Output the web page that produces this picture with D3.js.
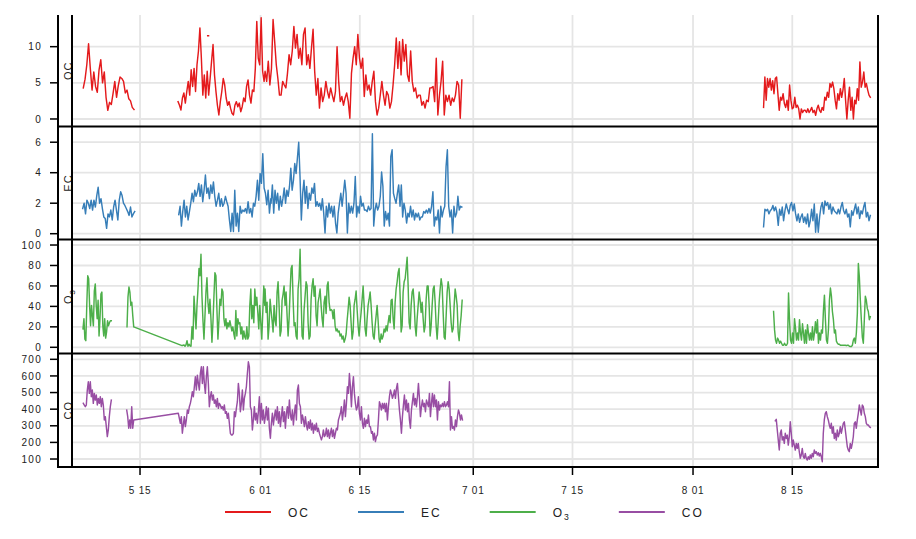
<!DOCTYPE html>
<html><head><meta charset="utf-8">
<script src="https://cdn.jsdelivr.net/npm/d3@7"></script>
<style>
body{margin:0;background:#fff}
svg{display:block}
text{font-family:Arial,"Liberation Sans",sans-serif;fill:#222}
</style>
</head><body>
<svg id="chart" width="916" height="539"></svg>
<script>
// ---------------- DATA ----------------
const seriesKeys = ["OC", "EC", "O3", "CO"];
const seriesColors = ["#e41a1c", "#377eb8", "#4daf4a", "#984ea3"];
const xTickDates = ["2013-05-15", "2013-06-01", "2013-06-15", "2013-07-01", "2013-07-15", "2013-08-01", "2013-08-15"];
const ocTicks = [0, 5, 10];
const ecTicks = [0, 2, 4, 6];
const o3Ticks = [0, 20, 40, 60, 80, 100];
const coTicks = [100, 200, 300, 400, 500, 600, 700];

// OC (evenly spaced readings between the span start and end)
const ocA = [4.3,5.5,7.5,10.4,7.0,4.0,6.5,4.5,3.7,6.8,8.2,5.0,6.5,3.0,1.2,2.3,2.0,3.5,5.2,3.0,4.6,5.8,5.6,5.2,3.6,4.0,2.8,2.5,1.6,1.3];
const ocB1 = [2.4,1.9,1.25,2.9,3.6,2.2,3.8,5.2,3.3,6.8,4.5,7.0,3.8,7.5,9.4,12.6,8.4,3.3,6.1,2.9,6.6,3.3,5.6,8.0,10.3,6.1,3.8,1.9,0.55,2.4,3.8,5.6,4.7,2.9,1.9,2.4,1.5,0.8,0.55,1.9,2.4,1.7,2.2,1.0,1.7,2.9,2.4,4.5,5.4,3.3,2.2,4.0,3.8,7.0,13.5,8.4,7.5,14.0,6.6,5.2];
const ocB2 = [6.6,5.2,8.0,4.7,7.0,13.75,10.7,7.5,5.6,3.3,3.3,5.2,4.7,4.3,6.3,8.9,7.5,9.4,12.8,9.8,11.7,8.4,9.8,7.5,11.7,12.6,7.5,8.9,7.0,9.8,12.4,6.6,3.3,5.6,1.5,4.3,2.4,3.3,5.2,3.8,2.9,4.3,3.3,2.4,3.8,10.0,5.2,2.4,3.1,1.9,2.9,3.6,2.4,0.1,6.3,8.4,10.0,7.5,11.7,8.4,7.0,8.4,3.1,6.1,4.0,4.7,3.3,5.2,6.6,2.4,0.55,1.5,3.3,5.2,3.3,1.9,3.8,3.3,1.5,2.4,4.7,7.5,11.2,7.0,10.7,6.1,11.0,8.0,10.3,6.1,5.2,9.4,5.2,3.8,4.3,2.9,3.3,3.3,1.9,2.4,1.5,2.6,2.4,4.3,4.3,4.5,2.4,8.4,0.55,3.3,5.2,8.0,0.55,3.3,2.4,3.3,1.9,2.9,2.4,3.3,5.2,4.7,0.1,5.4];
const ocDot = [11.5, 11.5];
const ocC = [1.6,5.8,2.6,5.6,4.4,5.6,4.0,5.3,3.5,5.6,5.8,3.5,1.2,3.0,2.6,3.5,2.1,1.6,2.6,1.2,4.7,2.6,1.4,1.6,3.0,1.6,1.9,1.4,0.0,1.4,0.9,1.2,1.2,0.9,1.4,0.9,1.2,1.6,0.9,1.2,0.5,1.4,1.9,1.2,0.9,1.6,1.2,3.0,2.6,3.7,3.0,4.9,4.4,5.1,4.2,2.6,1.4,3.5,2.6,4.2,3.0,4.0,5.6,2.6,0.0,2.6,4.4,1.2,3.0,0.0,2.6,2.1,4.2,2.6,7.9,4.4,5.1,6.5,4.4,4.9,4.0,3.3,3.0];

// EC
const ecA = [1.65,2.0,1.3,2.2,2.0,1.65,2.2,1.55,2.2,1.75,2.5,3.05,2.0,2.3,1.65,1.1,1.0,0.35,1.3,1.1,1.55,0.9,1.75,2.2,1.55,0.9,2.2,2.75,2.5,2.0,1.85,1.65,1.45,1.2,1.75,1.1,1.3,1.45];
const ecB1 = [1.25,1.8,0.5,1.45,2.2,1.1,1.8,0.9,1.45,2.0,2.65,2.1,2.85,2.45,2.75,3.3,2.45,3.2,2.1,2.85,3.85,2.65,3.0,2.3,3.2,2.65,3.4,2.45,1.8,2.2,2.65,1.8,2.3,1.8,2.0,2.45,2.1,1.8,0.9,0.15,1.35,0.15,2.85,0.5,1.35,0.15,1.8,1.35,1.55,1.45,1.65,1.35,2.1,1.35,1.65,1.1,2.0,1.8,2.45,3.5,2.2,3.95,3.3,5.25,3.0,2.65,1.9,2.85,1.35,2.3];
const ecB2 = [2.0,3.2,1.35,2.85,2.0,2.65,1.55,2.45,1.8,2.3,3.0,2.0,2.85,2.45,3.1,4.3,2.85,3.5,4.6,3.95,4.95,6.0,3.75,0.9,2.65,3.5,2.0,3.1,1.65,2.65,2.2,3.0,2.65,3.3,1.8,2.1,1.8,2.0,1.55,2.3,1.35,0.05,1.8,1.1,2.0,1.35,1.8,1.1,1.8,0.7,0.05,1.35,2.0,2.65,1.8,2.65,3.5,2.65,0.05,2.0,1.35,1.8,1.35,2.0,3.75,1.1,1.8,1.35,2.45,1.8,2.0,1.55,1.55,1.45,1.8,1.55,1.65,6.55,0.5,1.55,2.0,1.55,1.8,2.45,4.05,3.1,0.5,1.45,0.9,1.35,0.5,5.05,5.5,2.65,2.3,2.0,2.65,3.2,1.8,3.2,1.1,2.0,1.55,0.7,1.35,1.1,1.8,1.1,1.55,0.9,1.35,1.1,1.35,0.9,1.1,1.1,1.45,1.35,1.55,1.35,1.65,1.35,1.8,2.75,0.5,1.1,0.9,1.55,0.05,1.8,1.1,1.55,1.8,4.4,5.5,1.8,1.1,1.55,0.05,1.8,1.1,1.35,2.45,1.55,1.8,1.75];
const ecC = [0.45,1.6,1.5,1.6,1.3,1.5,1.6,1.85,1.5,1.75,1.4,0.55,1.6,1.2,1.75,0.85,1.5,1.95,1.6,1.3,1.85,2.05,1.5,1.95,1.3,0.85,1.3,0.75,1.1,1.3,0.75,1.1,0.65,1.3,0.45,0.85,1.6,0.85,1.95,0.1,1.3,0.1,1.1,1.75,2.05,1.3,2.15,1.85,2.05,1.6,1.95,1.3,1.75,1.5,1.4,1.3,1.6,1.3,1.75,2.05,1.5,1.3,1.6,1.1,1.3,0.45,1.5,1.2,1.6,1.95,1.3,1.75,1.0,1.5,1.3,1.75,2.05,1.1,1.4,0.85,1.2];

// O3
const o3A = [18,28,8,6.5,41,70,67,41,21,41,31,21,55,62,41,28,46,11,28,52,54,21,11,28,9,15,26,21,24,26,26];
const o3B1 = [20,49,59,54,41,44,31,20];
const o3B2 = [1.6,2.0,2.3,1.0,2.5,6.5,1.0,3.0,1.5,1.0,20,8,50,34,18,41,57,77,70,91,50,26,8,31,54,68,44,33,47,28,5,24,50,73,70,37,8,26,47,41,57,54,28,21,28,18,24,20,26,21,16,20,13,8,36,11,28,23,24,13,20,8,16,10,8,20,8,11,41,57,28,41,24,57,41,49,34,18,41,24,8,34,60,41];
const o3B3 = [57,34,44,8,21,47,36,26,15,41,26,21,54,64,41,11,16,46,52,60,41,54,31,11,28,54,77,80,47,21,24,11,8,57,67,96,49,11,8,37,50,64,60,24,8,11,47,60,67,50,60,31,21,44,50,57,41,28,20,44,50,33,60,64,44,36,37,36,28,37,21,16,18,15,16,11,13,8,11,5,8,13,26,37,49,41,24,8,15,41,47,55,37,21,11,24,34,47,60,41,18,11,28,41,47,54,41,24,11,8,21,31,41,26,8,5,13,8,11,18,15,21,16,24,31,24,46,47,28,18,44,57,64,73,77,50,15,21,54,64,67,77,88,60,24,18,41,54,57,44,21,11,28,41,54,46,34,44,28,15,21,47,60,60,41,11,21,41,57,60,44,21,8,24,44,57,67,60,34,10,8,31,54,64,57,41,24,15,18,41,57,50,41,15,6.5,21,31,46];
const o3C = [35,17,7,4,9,7,4,6,4,2,2,4,2,2,4,53,27,7,4,14,4,28,19,7,14,7,27,14,7,23,14,4,17,4,22,14,7,14,7,20,7,14,25,14,27,4,14,7,17,14,36,51,27,7,4,17,46,58,50,35,27,14,17,6,4,3,3,2,2,2,2,2,2,1.6,2,2,1,0.7,0.7,2,7,9,4,14,33,82,69,46,27,10,4,27,50,46,38,35,27,30];

// CO
const coA = [435,425,415,425,515,565,495,565,475,515,435,495,455,485,425,465,435,475,415,465,425,335,355,295,235,275,355,415,455];
const coB1 = [395,355,285,335,285,415,285,335];
const coB2 = [375,345,315,355,255,305,355,295,335,395,375,415,435,465,505,475,535,595,515,605,555,515,615,655,555,655,555,495,595,655,555,415,475,505,455,485,435,455,415,465,405,435,425,405,415,395,425,375,385,345,375,315,255,245,245,255,385,355,405,445,555,495,385,435,515,395,465,495,535,615,685,655,415,395,275,335,415,335,375,315,385,475,315,435,335,395,315,355,415,335,405,285,225,315,375,305,355,395,335,415,315,385,295,355,415,325,385,285,375,415,345,455,365,335,395,305,375,425,335,515,545,435,415,315,365,335,295,355,305,275,325,285,335,275,315,255,305,275,315,265,285,255,235,215,235,275,235,245,285,235,275,225,255,285,235,275,225,255,285,275,335,355,375,415,335,385,455,355,435,535,495,615,535,415,535,595,495,435,395,415,475,375,335,415,315,285,345,295,335,315,365,295,295,255,265,215,255,205,235,245];
const coB3 = [335,445,425,395,435,405,435,385,435,335,415,475,515,495,465,485,515,465,525,555,475,395,335,255,355,425,485,395,455,385,435,335,285,395,445,495,425,465,415,475,555,465,355,415,455,415,435,385,455,435,415,495,355,435,495,415,485,415,455,335,445,395,425,415,435,415,445,415,425,445,415,565,275,355,285,295,275,335,295,355,395,375,335,365,335];
const coC = [330,339,275,214,154,255,275,214,234,194,255,224,244,184,234,324,255,174,214,184,154,194,164,194,144,104,124,164,114,104,134,104,94,114,98,124,104,134,114,154,134,144,124,138,118,134,114,84,255,335,375,385,355,335,305,285,315,255,295,224,255,214,275,234,255,295,255,285,315,324,275,224,174,154,144,194,164,194,234,315,324,285,335,375,425,395,365,425,415,375,355,315,305,305,295,290];

// pieces: [start, end, values, path index] — readings evenly spaced in time within each span
const ocPieces = [
  ["05-07T00:00", "05-14T03:40", ocA, 0],
  ["05-20T08:41", "06-01T11:56", ocB1, 1],
  ["06-01T15:19", "06-29T09:26", ocB2, 1],
  ["05-24T13:00", "05-24T16:00", ocDot, 2],
  ["08-10T22:48", "08-26T00:09", ocC, 3]
];
const ecPieces = [
  ["05-06T21:58", "05-14T06:03", ecA, 0],
  ["05-20T11:04", "06-02T10:37", ecB1, 1],
  ["06-02T11:38", "06-29T09:26", ecB2, 1],
  ["08-10T22:48", "08-26T00:09", ecC, 2]
];
const o3Pieces = [
  ["05-06T22:58", "05-10T22:48", o3A, 0],
  ["05-13T03:59", "05-14T02:40", o3B1, 1],
  ["05-20T22:13", "06-01T14:18", o3B2, 1],
  ["06-01T15:19", "06-29T10:28", o3B3, 1],
  ["08-12T08:38", "08-26T00:09", o3C, 2]
];
const coPieces = [
  ["05-07T00:00", "05-10T22:48", coA, 0],
  ["05-13T02:57", "05-14T02:40", coB1, 1],
  ["05-20T09:42", "06-17T11:37", coB2, 1],
  ["06-17T15:00", "06-29T11:28", coB3, 1],
  ["08-12T14:24", "08-26T00:09", coC, 2]
];

// ---------------- LAYOUT ----------------
const YEAR = "2013-";
const parseT = d3.utcParse("%Y-%m-%dT%H:%M");
const parseD = d3.utcParse("%Y-%m-%d");
const L = 72, R = 878, AXISX = 58, BOTTOM = 467;
const panels = [
  {key: "OC", pieces: ocPieces, ticks: ocTicks, top: 15, bottom: 126.5, domain: [-1.04, 14.38]},
  {key: "EC", pieces: ecPieces, ticks: ecTicks, top: 126.5, bottom: 239.5, domain: [-0.38, 7.03]},
  {key: "O3", pieces: o3Pieces, ticks: o3Ticks, top: 239.5, bottom: 353.5, domain: [-6.06, 105.4]},
  {key: "CO", pieces: coPieces, ticks: coTicks, top: 353.5, bottom: BOTTOM, domain: [52, 735]}
];

const svg = d3.select("#chart");
svg.append("rect").attr("width", 916).attr("height", 539).attr("fill", "#fff");

const x = d3.scaleUtc()
  .domain([Date.UTC(2013, 4, 5, 9, 43), Date.UTC(2013, 7, 27, 2, 10)])
  .range([L, R]);
const xTicks = xTickDates.map(parseD);
const fmt = d3.utcFormat("%-m %d");

function labelText(sel, key, size) {
  if (key === "O3") {
    sel.append("tspan").text("O");
    sel.append("tspan").text("3").attr("font-size", size * 0.72).attr("dy", size * 0.28);
  } else {
    sel.text(key);
  }
}

const defs = svg.append("defs");

panels.forEach((p, i) => {
  const y = d3.scaleLinear().domain(p.domain).range([p.bottom, p.top]);
  const g = svg.append("g");
  // grid
  g.selectAll(".hg").data(p.ticks).join("line")
    .attr("x1", L).attr("x2", R).attr("y1", d => y(d)).attr("y2", d => y(d))
    .attr("stroke", "#e5e5e5").attr("stroke-width", 1.8);
  g.selectAll(".vg").data(xTicks).join("line")
    .attr("x1", d => x(d)).attr("x2", d => x(d)).attr("y1", p.top).attr("y2", p.bottom)
    .attr("stroke", "#e5e5e5").attr("stroke-width", 1.8);

  // clip
  defs.append("clipPath").attr("id", "clip" + i).append("rect")
    .attr("x", L).attr("y", p.top).attr("width", R - L).attr("height", p.bottom - p.top);

  // build points
  const paths = d3.groups(p.pieces.flatMap(pc => {
    const t0 = parseT(YEAR + pc[0]).getTime(), t1 = parseT(YEAR + pc[1]).getTime();
    const n = pc[2].length;
    return pc[2].map((v, k) => ({path: pc[3], t: new Date(t0 + (t1 - t0) * k / (n - 1)), v}));
  }), d => d.path);

  const line = d3.line().x(d => x(d.t)).y(d => y(d.v));
  g.append("g").attr("clip-path", `url(#clip${i})`)
    .selectAll("path").data(paths).join("path")
    .attr("d", d => line(d[1]))
    .attr("fill", "none").attr("stroke", seriesColors[i])
    .attr("stroke-width", 1.45).attr("stroke-linejoin", "round").attr("stroke-linecap", "square");

  // y ticks
  g.selectAll(".yt").data(p.ticks).join("line")
    .attr("x1", AXISX - 8).attr("x2", AXISX).attr("y1", d => y(d)).attr("y2", d => y(d))
    .attr("stroke", "#000").attr("stroke-width", 1.5);
  g.selectAll(".yl").data(p.ticks).join("text")
    .attr("x", AXISX - 16).attr("y", d => y(d)).attr("dy", "0.36em")
    .attr("text-anchor", "end").attr("font-size", 10).attr("letter-spacing", "1.3px")
    .text(d => d);

  // facet label
  const lt = g.append("text")
    .attr("transform", `translate(71.5,${(p.top + p.bottom) / 2}) rotate(-90)`)
    .attr("text-anchor", "middle").attr("font-size", 11).attr("letter-spacing", "1px");
  labelText(lt, p.key, 11);

  // separator
  if (i > 0) {
    svg.append("line").attr("x1", AXISX).attr("x2", R + 1).attr("y1", p.top).attr("y2", p.top)
      .attr("stroke", "#000").attr("stroke-width", 2);
  }
});

// frame lines
const frame = svg.append("g").attr("stroke", "#000").attr("stroke-width", 2);
frame.append("line").attr("x1", AXISX).attr("x2", AXISX).attr("y1", 15).attr("y2", BOTTOM + 1);
frame.append("line").attr("x1", L).attr("x2", L).attr("y1", 15).attr("y2", BOTTOM);
frame.append("line").attr("x1", R).attr("x2", R).attr("y1", 15).attr("y2", BOTTOM + 1);
frame.append("line").attr("x1", AXISX - 1).attr("x2", R + 1).attr("y1", BOTTOM).attr("y2", BOTTOM);

// x axis ticks & labels
svg.selectAll(".xt").data(xTicks).join("line")
  .attr("x1", d => x(d)).attr("x2", d => x(d)).attr("y1", BOTTOM).attr("y2", BOTTOM + 8)
  .attr("stroke", "#000").attr("stroke-width", 1.5);
svg.selectAll(".xl").data(xTicks).join("text")
  .attr("x", d => x(d)).attr("y", 494).attr("text-anchor", "middle")
  .attr("font-size", 10).attr("letter-spacing", "0.8px")
  .text(d => fmt(d));

// legend
const lg = svg.append("g");
let lx = 225;
seriesKeys.forEach((k, i) => {
  lg.append("line").attr("x1", lx).attr("x2", lx + 46).attr("y1", 512).attr("y2", 512)
    .attr("stroke", seriesColors[i]).attr("stroke-width", 2);
  const t = lg.append("text").attr("x", lx + 63).attr("y", 516.5)
    .attr("font-size", 12).attr("letter-spacing", "2px");
  labelText(t, k, 12);
  const w = t.node().getComputedTextLength();
  lx = lx + 63 + w + 48;
});
</script>
</body></html>
